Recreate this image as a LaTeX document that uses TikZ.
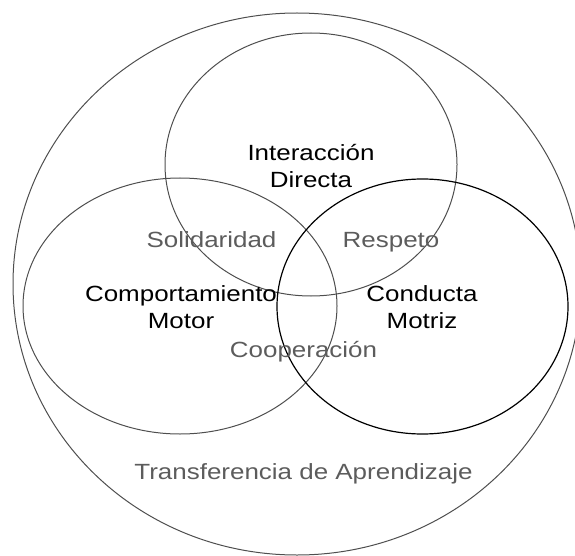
\documentclass[tikz,border=0pt]{standalone}
\usepackage{fontspec}
\setmainfont{Liberation Sans}
\newfontfamily\labfont[FakeStretch=1.18]{Liberation Sans}
\definecolor{linegray}{HTML}{4E4E4E}
\definecolor{labgray}{HTML}{5C5C5C}
\begin{document}
\begin{tikzpicture}[x=1pt,y=-1pt,
  setline/.style={draw=linegray,line width=1pt},
  darkline/.style={draw=black,line width=1.2pt},
  mainlab/.style={font=\labfont\fontsize{22}{26.5}\selectfont,text=black,align=center,inner sep=0pt},
  sublab/.style={font=\labfont\fontsize{22}{26.5}\selectfont,text=labgray,inner sep=0pt,anchor=base}]
\useasboundingbox (0,0) rectangle (575,556);
% outer ellipse
\draw[setline] (297,284) ellipse [x radius=284, y radius=271];
% top
\draw[setline] (311,164.5) ellipse [x radius=146, y radius=131.5];
% left
\draw[setline] (180,306) ellipse [x radius=157, y radius=128];
% right
\draw[darkline] (422.5,306.5) ellipse [x radius=145.5, y radius=127.5];
% labels
\node[mainlab] (inter) at (311,166) {Interacción\\Directa};
\node[mainlab] (comp) at (181,307) {Comportamiento\\Motor};
\node[mainlab] (cond) at (422,307) {Conducta\\Motriz};
\node[sublab] (sol) at (211.5,247) {Solidaridad};
\node[sublab] (res) at (391,247) {Respeto};
\node[sublab] (coop) at (303.5,357.7) {Cooperación};
\node[sublab] (trans) at (303.5,479) {Transferencia de Aprendizaje};
\end{tikzpicture}
\end{document}
